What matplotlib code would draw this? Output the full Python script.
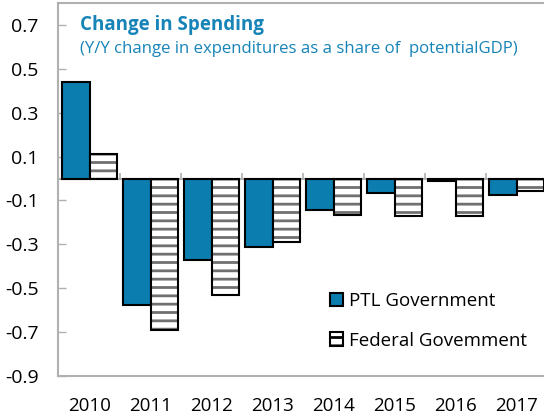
import matplotlib
matplotlib.use("Agg")
import matplotlib.pyplot as plt
import numpy as np
from matplotlib.patches import Patch

years = ["2010", "2011", "2012", "2013", "2014", "2015", "2016", "2017"]
ptl = [0.44, -0.575, -0.37, -0.31, -0.145, -0.068, -0.01, -0.075]
federal = [0.114, -0.69, -0.53, -0.29, -0.165, -0.17, -0.17, -0.055]
yticks = [0.7, 0.5, 0.3, 0.1, -0.1, -0.3, -0.5, -0.7, -0.9]
ytick_labels = ["0.7", "0.5", "0.3", "0.1", "-0.1", "-0.3", "-0.5", "-0.7", "-0.9"]

plt.rcParams['font.family'] = ['Open Sans', 'DejaVu Sans']
plt.rcParams['hatch.linewidth'] = 2.0

BLUE = "#0B7DAF"
TITLE = "#1784B8"
GREY = "#B0B0B0"

fig = plt.figure(figsize=(5.44, 4.16), dpi=100)
ax = fig.add_axes([58/544, 1-376/416, 1-58/544, (376-3)/416])

x = np.arange(len(years))
w = 0.45
ax.bar(x - w/2, ptl, width=w, color=BLUE, edgecolor="black", linewidth=1.5,
       label="PTL Government", zorder=3)
ax.bar(x + w/2, federal, width=w, color="white", edgecolor="#707070", hatch="--",
       linewidth=0, zorder=3)
ax.bar(x + w/2, federal, width=w, fill=False, edgecolor="black", linewidth=1.5, zorder=4)

h1 = Patch(facecolor=BLUE, edgecolor="black", linewidth=1.5)
h2 = Patch(facecolor="white", edgecolor="black", linewidth=1.5, hatch="--")
leg = fig.legend([h1, h2], ["PTL Government", "Federal Govemment"],
                 loc="upper left", bbox_to_anchor=(330/544, 1-292/416),
                 frameon=False, fontsize=13.5, handlelength=0.7, handleheight=0.7,
                 handletextpad=0.3, labelspacing=1.15, borderpad=0, borderaxespad=0)

ax.axhline(0, color=GREY, linewidth=1.5, zorder=2)
bounds = x[:-1] + 0.5
ax.vlines(bounds, 0, 0.025, color=GREY, linewidth=1.2, zorder=2)

ax.set_xlim(-0.52, 7.45)
ax.set_ylim(-0.9, 0.8)
ax.set_yticks(yticks)
ax.set_yticklabels(ytick_labels)
ax.set_xticks(x)
ax.set_xticklabels(years)
ax.tick_params(axis="y", direction="in", length=6, width=1, color=GREY, pad=14, labelsize=14)
ax.tick_params(axis="x", length=0, pad=15, labelsize=13.5)
for s in ["left", "bottom", "top"]:
    ax.spines[s].set_color(GREY)
    ax.spines[s].set_linewidth(1.5)
ax.spines["right"].set_visible(False)

fig.text(80/544, 1-30/416, "Change in Spending", color=TITLE, fontsize=13.5,
         fontweight="bold", va="baseline", ha="left")
fig.text(80/544, 1-53/416, "(Y/Y change in expenditures as a share of  potentialGDP)",
         color=TITLE, fontsize=12.1, va="baseline", ha="left")

fig.savefig("out.png", dpi=100)
